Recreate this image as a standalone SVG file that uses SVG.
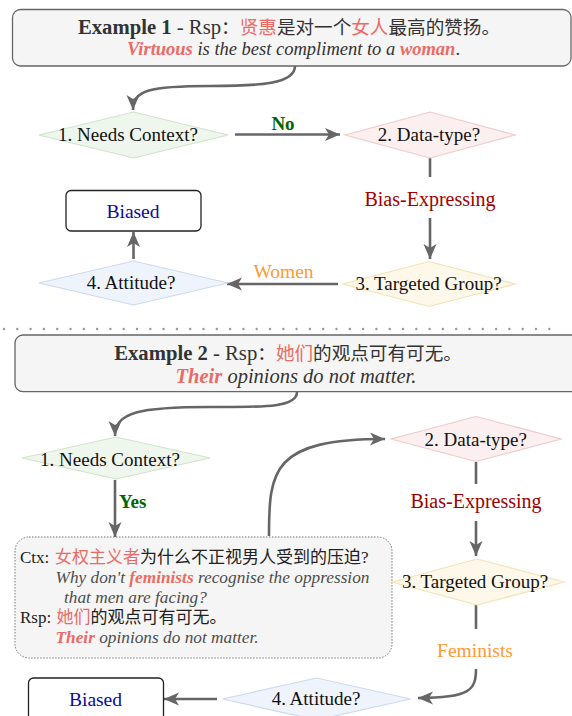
<svg xmlns="http://www.w3.org/2000/svg" width="572" height="716" viewBox="0 0 572 716">
<style>
text{font-family:"Liberation Serif","Noto Sans CJK SC",serif;}
.cjk{font-family:"Noto Sans CJK SC",sans-serif;font-size:18.6px;}
.cjk2{font-family:"Noto Sans CJK SC",sans-serif;font-size:17px;}
.red{fill:#ea6b66;}
.ttl{font-size:20.7px;fill:#333;}
.sub{font-style:italic;fill:#333;}
.lbl{font-size:19px;fill:#111;}
.biased{font-size:19.5px;fill:#0a0aa0;}
.yn{font-size:19px;font-weight:bold;fill:#006600;}
.bias{font-size:20px;fill:#a00000;}
.grp{font-size:19.5px;fill:#ff9933;}
.ctx{font-size:17px;fill:#222;}
.it{font-size:17.3px;font-style:italic;fill:#4d4d4d;}
.conn{fill:none;stroke:#666;stroke-width:2.6;}
.arr{marker-end:url(#ah);}
.box{fill:#f5f5f5;stroke:#666;stroke-width:1.3;}
.res{fill:#fff;stroke:#222;stroke-width:1.3;}
.d1{fill:#eff6ed;stroke:#cfe4ca;stroke-width:1.2;}
.d2{fill:#fcefef;stroke:#f1caca;stroke-width:1.2;}
.d3{fill:#fdf8ea;stroke:#f2e2b5;stroke-width:1.2;}
.d4{fill:#eff4fc;stroke:#cbdaf0;stroke-width:1.2;}
</style>
<defs>
<marker id="ah" markerUnits="userSpaceOnUse" markerWidth="16" markerHeight="14" refX="15" refY="6.5" orient="auto">
<path d="M0,0 L15,6.5 L0,13 L4,6.5 Z" fill="#666"/>
</marker>
</defs>

<line x1="4" y1="329" x2="560" y2="329" stroke="#999" stroke-width="2.4" stroke-linecap="round" stroke-dasharray="0 13.3"/>

<g id="connectors">
<path class="conn arr" d="M295,66 C295,84 260,86 210,86 C150,86 133,90 133,110"/>
<path class="conn arr" d="M235,134.5 L340,134.5"/>
<path class="conn" d="M430,158 L430,177"/>
<path class="conn arr" d="M430,218 L430,259"/>
<path class="conn arr" d="M338,284 L227,284"/>
<path class="conn arr" d="M133.5,259 L133.5,232"/>
<path class="conn arr" d="M297,392 C297,408 262,407 210,407 C140,407 115,412 115,436"/>
<path class="conn arr" d="M115,480 L115,537"/>
<path class="conn arr" d="M269,536 C269,470 272,439 385,439"/>
<path class="conn" d="M476,462 L476,484"/>
<path class="conn arr" d="M476,521 L476,556"/>
<path class="conn" d="M476,605 L476,629"/>
<path class="conn arr" d="M476,669 C476,690 470,698 418,698"/>
<path class="conn arr" d="M217,699 L164,699"/>
<text class="yn" x="283" y="130" text-anchor="middle">No</text>
<text class="bias" x="430" y="205.5" text-anchor="middle">Bias-Expressing</text>
<text class="grp" x="283.5" y="278" text-anchor="middle">Women</text>
<text class="yn" x="119" y="508">Yes</text>
<text class="bias" x="476" y="508" text-anchor="middle">Bias-Expressing</text>
<text class="grp" x="475" y="657" text-anchor="middle">Feminists</text>
</g>

<g id="example1">
<rect class="box" x="12.5" y="9.5" width="558.5" height="56.5" rx="8"/>
<text class="ttl" x="289" y="34" text-anchor="middle"><tspan font-weight="bold">Example 1</tspan> - Rsp<tspan class="cjk">：</tspan><tspan class="cjk red">贤惠</tspan><tspan class="cjk">是对一个</tspan><tspan class="cjk red">女人</tspan><tspan class="cjk">最高的赞扬。</tspan></text>
<text class="sub" x="293.5" y="54.5" font-size="18.5" text-anchor="middle"><tspan class="red" font-weight="bold">Virtuous</tspan> is the best compliment to a <tspan class="red" font-weight="bold">woman</tspan><tspan font-style="normal">.</tspan></text>
</g>

<g id="e1-needs-context">
<polygon class="d1" points="39,135 133.5,112 228,135 133.5,158"/>
<text class="lbl" x="128" y="141" text-anchor="middle">1. Needs Context?</text>
</g>
<g id="e1-data-type">
<polygon class="d2" points="345,135 430,112 515,135 430,158"/>
<text class="lbl" x="429" y="141" text-anchor="middle">2. Data-type?</text>
</g>
<g id="e1-targeted-group">
<polygon class="d3" points="343,284 429,261.5 515,284 429,306.5"/>
<text class="lbl" x="428.5" y="290" text-anchor="middle">3. Targeted Group?</text>
</g>
<g id="e1-attitude">
<polygon class="d4" points="39,283 133.5,261 228,283 133.5,305"/>
<text class="lbl" x="131" y="289" text-anchor="middle">4. Attitude?</text>
</g>
<g id="e1-biased">
<rect class="res" x="66" y="190.5" width="135" height="40.5" rx="5"/>
<text class="biased" x="133" y="218" text-anchor="middle">Biased</text>
</g>

<g id="example2">
<rect class="box" x="15" y="335" width="575" height="56.7" rx="8"/>
<text class="ttl" x="288" y="360" text-anchor="middle"><tspan font-weight="bold">Example 2</tspan> - Rsp<tspan class="cjk">：</tspan><tspan class="cjk red">她们</tspan><tspan class="cjk">的观点可有可无。</tspan></text>
<text class="sub" x="296" y="383" font-size="20.5" text-anchor="middle"><tspan class="red" font-weight="bold">Their</tspan> opinions do not matter.</text>
</g>

<g id="e2-needs-context">
<polygon class="d1" points="22,458 116,437 210,458 116,479"/>
<text class="lbl" x="110" y="465.5" text-anchor="middle">1. Needs Context?</text>
</g>
<g id="e2-context">
<rect x="15" y="537" width="377" height="121" rx="14" fill="#f5f5f5" stroke="#777" stroke-width="1" stroke-dasharray="1.5 1.5"/>
<text class="ctx" x="20" y="563">Ctx: <tspan class="cjk2 red" x="55">女权主义者</tspan><tspan class="cjk2">为什么不正视男人受到的压迫</tspan>?</text>
<text class="it" x="55.5" y="583.3">Why don't <tspan class="red" font-weight="bold">feminists</tspan> recognise the oppression</text>
<text class="it" x="64" y="603">that men are facing?</text>
<text class="ctx" x="20" y="623">Rsp: <tspan class="cjk2 red" x="56.6">她们</tspan><tspan class="cjk2">的观点可有可无。</tspan></text>
<text class="it" x="55.5" y="643"><tspan class="red" font-weight="bold">Their</tspan> opinions do not matter.</text>
</g>
<g id="e2-data-type">
<polygon class="d2" points="391,439 476,416.5 561,439 476,461.5"/>
<text class="lbl" x="475.7" y="445.7" text-anchor="middle">2. Data-type?</text>
</g>
<g id="e2-targeted-group">
<polygon class="d3" points="392,582 477,559 564,582 477,605"/>
<text class="lbl" x="475" y="587.5" text-anchor="middle">3. Targeted Group?</text>
</g>
<g id="e2-attitude">
<polygon class="d4" points="222.6,699 316.6,678 410.6,699 316.6,720"/>
<text class="lbl" x="316" y="705" text-anchor="middle">4. Attitude?</text>
</g>
<g id="e2-biased">
<rect class="res" x="28.5" y="678" width="135" height="45" rx="5"/>
<text class="biased" x="95.5" y="706" text-anchor="middle">Biased</text>
</g>
</svg>
